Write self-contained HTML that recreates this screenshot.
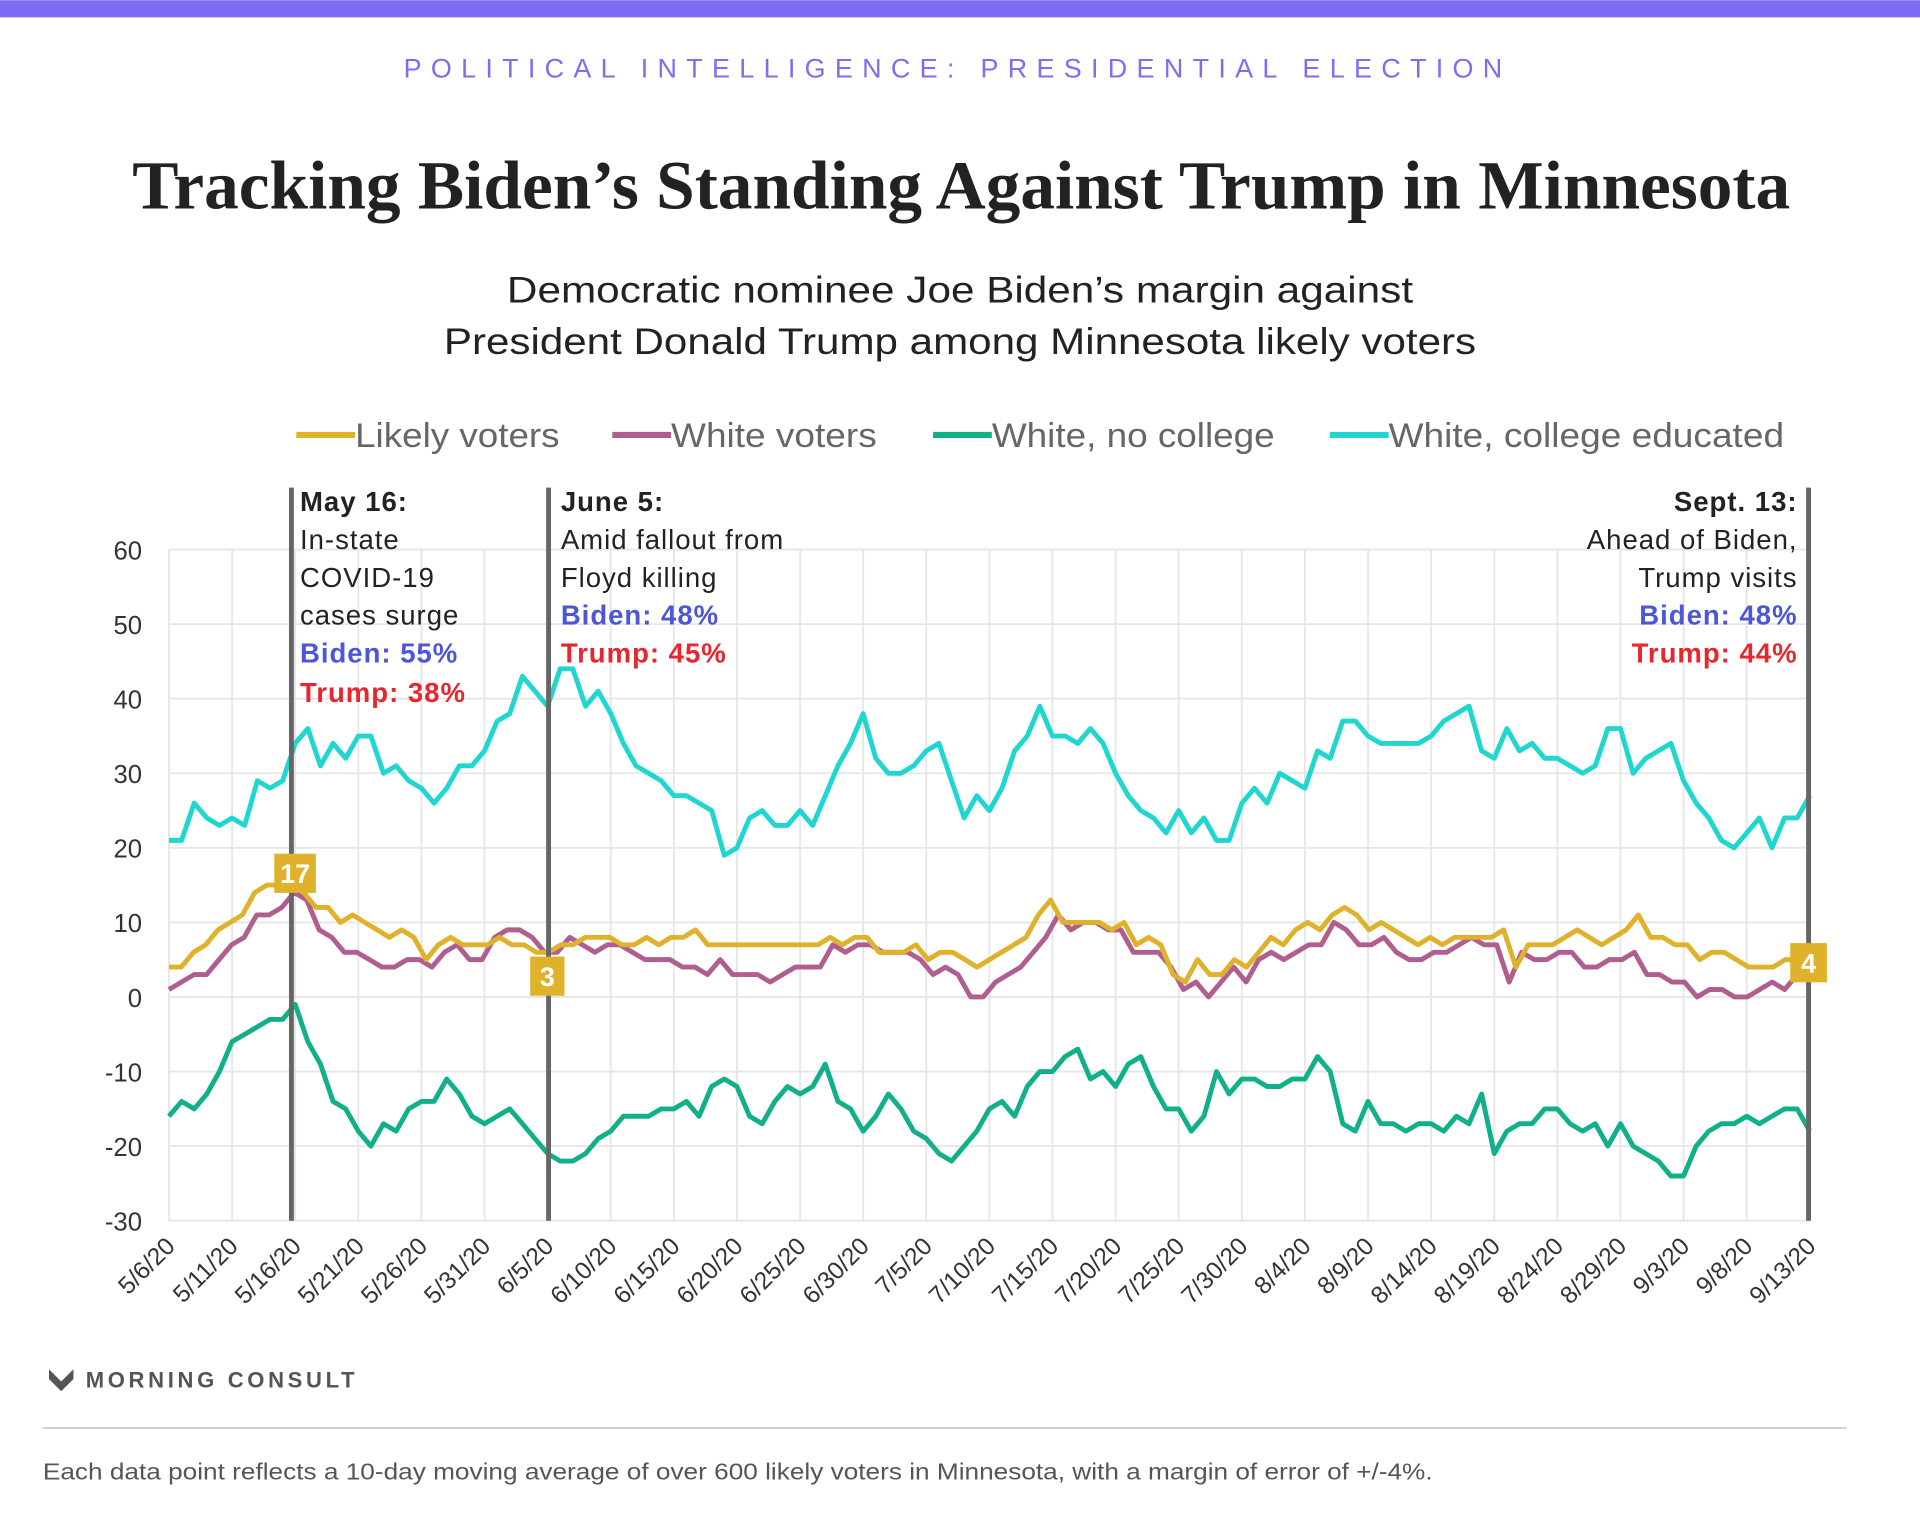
<!DOCTYPE html>
<html><head><meta charset="utf-8"><style>
html,body{margin:0;padding:0;background:#fff;}
svg{display:block;}
text{font-family:"Liberation Sans",sans-serif;}
</style></head><body>
<svg id="s" width="1920" height="1536" viewBox="0 0 1568 1254" xmlns="http://www.w3.org/2000/svg">
<rect x="0" y="0" width="1568" height="1254" fill="#fff"/>
<rect x="0" y="0" width="1568" height="14" fill="#7d6cf6"/>
<text x="782" y="63" text-anchor="middle" font-size="22" fill="#7d6cf6" letter-spacing="7.6">POLITICAL INTELLIGENCE: PRESIDENTIAL ELECTION</text>
<text x="785" y="170" text-anchor="middle" font-size="56" font-weight="bold" fill="#222" style="font-family:'Liberation Serif',serif" textLength="1354" lengthAdjust="spacingAndGlyphs">Tracking Biden’s Standing Against Trump in Minnesota</text>
<text x="784" y="247" text-anchor="middle" font-size="30" fill="#222" textLength="740" lengthAdjust="spacingAndGlyphs">Democratic nominee Joe Biden’s margin against</text>
<text x="784" y="289" text-anchor="middle" font-size="30" fill="#222" textLength="843" lengthAdjust="spacingAndGlyphs">President Donald Trump among Minnesota likely voters</text>
<g font-size="28" fill="#666">
<line x1="242" y1="355" x2="290" y2="355" stroke="#e0b12a" stroke-width="5"/><text x="290" y="365" textLength="167" lengthAdjust="spacingAndGlyphs">Likely voters</text>
<line x1="500" y1="355" x2="548" y2="355" stroke="#b05e8f" stroke-width="5"/><text x="548" y="365" textLength="168" lengthAdjust="spacingAndGlyphs">White voters</text>
<line x1="762" y1="355" x2="810" y2="355" stroke="#12b08a" stroke-width="5"/><text x="810" y="365" textLength="231" lengthAdjust="spacingAndGlyphs">White, no college</text>
<line x1="1086" y1="355" x2="1134" y2="355" stroke="#1fd6d0" stroke-width="5"/><text x="1134" y="365" textLength="323" lengthAdjust="spacingAndGlyphs">White, college educated</text>
</g>
<g id="grid"></g>
<g id="series"></g>
<g id="ann"></g>
<g transform="translate(40,1118)"><path d="M0,0 L10,10 L20,0 L20,8 L10,18 L0,8Z" fill="#555"/></g>
<text x="70" y="1133" font-size="18" font-weight="bold" fill="#555" letter-spacing="3">MORNING CONSULT</text>
<line x1="35" y1="1166" x2="1508" y2="1166" stroke="#ccc" stroke-width="1.5"/>
<text x="35" y="1208" font-size="19" fill="#555" textLength="1135" lengthAdjust="spacingAndGlyphs">Each data point reflects a 10-day moving average of over 600 likely voters in Minnesota, with a margin of error of +/-4%.</text>
</svg>
<script>
var NS="http://www.w3.org/2000/svg",X0=138,X1=1478,Y0=814,PY=6.09;
function el(p,t,a,txt){var e=document.createElementNS(NS,t);for(var k in a)e.setAttribute(k,a[k]);if(txt!=null)e.textContent=txt;p.appendChild(e);return e;}
function yy(v){return Y0-v*PY;}
var g=document.getElementById('grid');
for(var v=-30;v<=60;v+=10){el(g,'line',{x1:X0,x2:X1,y1:yy(v),y2:yy(v),stroke:'#e6e6e6','stroke-width':1.5});
el(g,'text',{x:116,y:yy(v)+8,'text-anchor':'end','font-size':21,fill:'#333'},String(v));}
var dates=['5/6/20','5/11/20','5/16/20','5/21/20','5/26/20','5/31/20','6/5/20','6/10/20','6/15/20','6/20/20','6/25/20','6/30/20','7/5/20','7/10/20','7/15/20','7/20/20','7/25/20','7/30/20','8/4/20','8/9/20','8/14/20','8/19/20','8/24/20','8/29/20','9/3/20','9/8/20','9/13/20'];
var dx=(X1-X0)/130;
for(var i=0;i<=130;i+=5){var x=X0+i*dx;el(g,'line',{x1:x,x2:x,y1:yy(60),y2:yy(-30),stroke:'#e6e6e6','stroke-width':1.5});
el(g,'text',{x:0,y:0,'text-anchor':'end','font-size':20,fill:'#333',transform:'translate('+(x+6)+','+(yy(-30)+22)+') rotate(-45)'},dates[i/5]);}
var cyan=[21,21,26,24,23,24,23,29,28,29,34,36,31,34,32,35,35,30,31,29,28,26,28,31,31,33,37,38,43,41,39,44,44,39,41,38,34,31,30,29,27,27,26,25,19,20,24,25,23,23,25,23,27,31,34,38,32,30,30,31,33,34,29,24,27,25,28,33,35,39,35,35,34,36,34,30,27,25,24,22,25,22,24,21,21,26,28,26,30,29,28,33,32,37,37,35,34,34,34,34,35,37,38,39,33,32,36,33,34,32,32,31,30,31,36,36,30,32,33,34,29,26,24,21,20,22,24,20,24,24,27];
var green=[-16,-14,-15,-13,-10,-6,-5,-4,-3,-3,-1,-6,-9,-14,-15,-18,-20,-17,-18,-15,-14,-14,-11,-13,-16,-17,-16,-15,-17,-19,-21,-22,-22,-21,-19,-18,-16,-16,-16,-15,-15,-14,-16,-12,-11,-12,-16,-17,-14,-12,-13,-12,-9,-14,-15,-18,-16,-13,-15,-18,-19,-21,-22,-20,-18,-15,-14,-16,-12,-10,-10,-8,-7,-11,-10,-12,-9,-8,-12,-15,-15,-18,-16,-10,-13,-11,-11,-12,-12,-11,-11,-8,-10,-17,-18,-14,-17,-17,-18,-17,-17,-18,-16,-17,-13,-21,-18,-17,-17,-15,-15,-17,-18,-17,-20,-17,-20,-21,-22,-24,-24,-20,-18,-17,-17,-16,-17,-16,-15,-15,-18];
var purple=[1,2,3,3,5,7,8,11,11,12,14,13,9,8,6,6,5,4,4,5,5,4,6,7,5,5,8,9,9,8,6,6,8,7,6,7,7,6,5,5,5,4,4,3,5,3,3,3,2,3,4,4,4,7,6,7,7,6,6,6,5,3,4,3,0,0,2,3,4,6,8,11,9,10,10,9,9,6,6,6,4,1,2,0,2,4,2,5,6,5,6,7,7,10,9,7,7,8,6,5,5,6,6,7,8,7,7,2,6,5,5,6,6,4,4,5,5,6,3,3,2,2,0,1,1,0,0,1,2,1,3,3];
var yellow=[4,4,6,7,9,10,11,14,15,15,16,14,12,12,10,11,10,9,8,9,8,5,7,8,7,7,7,8,7,7,6,6,7,7,8,8,8,7,7,8,7,8,8,9,7,7,7,7,7,7,7,7,7,7,8,7,8,8,6,6,6,7,5,6,6,5,4,5,6,7,8,11,13,10,10,10,10,9,10,7,8,7,3,2,5,3,3,5,4,6,8,7,9,10,9,11,12,11,9,10,9,8,7,8,7,8,8,8,8,9,4,7,7,7,8,9,8,7,8,9,11,8,8,7,7,5,6,6,5,4,4,4,5,5,4];
var s=document.getElementById('series');
function line(d,c){var n=d.length,step=(X1-X0)/(n-1),p=[];for(var i=0;i<n;i++)p.push((X0+i*step).toFixed(1)+','+yy(d[i]).toFixed(1));
el(s,'polyline',{points:p.join(' '),fill:'none',stroke:c,'stroke-width':4,'stroke-linejoin':'round'});}
line(cyan,'#1fd6d0');line(green,'#12b08a');line(purple,'#b05e8f');line(yellow,'#e0b12a');
var a=document.getElementById('ann');
[238,448,1477].forEach(function(x){el(a,'line',{x1:x,x2:x,y1:398,y2:yy(-30),stroke:'#666','stroke-width':4});});
function t(x,y,txt,o){var at={x:x,y:y,'font-size':22.5,fill:'#222','letter-spacing':0.8};for(var k in o)at[k]=o[k];el(a,'text',at,txt);}
t(245,417,'May 16:',{'font-weight':'bold'});t(245,448,'In-state');t(245,479,'COVID-19');t(245,510,'cases surge');
t(245,541,'Biden: 55%',{'font-weight':'bold',fill:'#4b57d6'});t(245,573,'Trump: 38%',{'font-weight':'bold',fill:'#e8262e'});
t(458,417,'June 5:',{'font-weight':'bold'});t(458,448,'Amid fallout from');t(458,479,'Floyd killing');
t(458,510,'Biden: 48%',{'font-weight':'bold',fill:'#4b57d6'});t(458,541,'Trump: 45%',{'font-weight':'bold',fill:'#e8262e'});
var R={'text-anchor':'end'};
t(1468,417,'Sept. 13:',{'font-weight':'bold','text-anchor':'end'});t(1468,448,'Ahead of Biden,',R);t(1468,479,'Trump visits',R);
t(1468,510,'Biden: 48%',{'font-weight':'bold',fill:'#4b57d6','text-anchor':'end'});t(1468,541,'Trump: 44%',{'font-weight':'bold',fill:'#e8262e','text-anchor':'end'});
function box(x,y,w,txt){el(a,'rect',{x:x-w/2,y:y-16,width:w,height:32,fill:'#e0b12a'});el(a,'text',{x:x,y:y+8,'text-anchor':'middle','font-size':22,'font-weight':'bold',fill:'#fff'},txt);}
box(241,713,34,'17');box(447,797,28,'3');box(1477,786,30,'4');
</script>
</body></html>
